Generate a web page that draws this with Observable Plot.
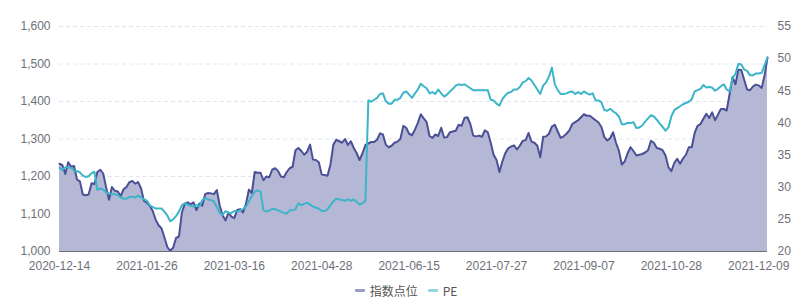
<!DOCTYPE html>
<html><head><meta charset="utf-8">
<script src="https://cdn.jsdelivr.net/npm/d3@7"></script>
<script src="https://cdn.jsdelivr.net/npm/@observablehq/plot@0.6"></script>
<style>
body{margin:0;background:#fff;font-family:"Noto Sans CJK SC","Noto Sans",sans-serif;}
#legend{height:30px;display:flex;justify-content:center;align-items:center;font-size:12px;color:#333;}
#legend .item{display:flex;align-items:center;margin:0 5px;}
#legend .sw{display:inline-block;width:10px;height:3px;margin-right:5px;border-radius:1px;}
</style></head><body><div id="chart"></div><div id="legend"></div>
<script>
const seriesNames = ["指数点位", "PE"];
const seriesColors = ["#4a5096", "#3bb5c8"];
const tickLabels = ["2020-12-14","2021-01-26","2021-03-16","2021-04-28","2021-06-15","2021-07-27","2021-09-07","2021-10-28","2021-12-09"];
const leftTicks = [1000,1100,1200,1300,1400,1500,1600];
const rightTicks = [20,25,30,35,40,45,50,55];
const indexValues = [
1234,1230,1207,1238,1226,1228,1192,1187,1152,1150,
1152,1182,1180,1212,1218,1208,1171,1138,1172,1162,
1160,1148,1166,1172,1185,1188,1181,1185,1168,1135,
1130,1122,1108,1085,1070,1062,1038,1012,1002,1010,
1036,1040,1104,1127,1131,1126,1131,1110,1128,1122,
1153,1156,1155,1153,1164,1122,1096,1083,1104,1093,
1089,1111,1113,1104,1127,1165,1156,1212,1210,1210,
1190,1200,1198,1218,1222,1215,1200,1198,1212,1222,
1226,1270,1276,1268,1258,1266,1285,1245,1244,1238,
1205,1204,1202,1232,1285,1298,1294,1290,1300,1284,
1294,1276,1262,1244,1262,1284,1288,1292,1292,1298,
1315,1312,1285,1278,1282,1290,1293,1300,1335,1330,
1314,1310,1325,1343,1366,1355,1345,1308,1303,1312,
1308,1330,1304,1305,1318,1320,1322,1338,1335,1356,
1358,1340,1309,1307,1309,1306,1323,1318,1290,1258,
1244,1212,1240,1262,1275,1280,1283,1272,1282,1295,
1297,1316,1293,1290,1282,1251,1306,1307,1314,1333,
1338,1320,1303,1307,1314,1323,1340,1345,1350,1358,
1366,1362,1362,1356,1350,1344,1332,1305,1296,1302,
1318,1290,1269,1232,1240,1262,1278,1268,1256,1258,
1260,1264,1270,1295,1290,1276,1274,1270,1256,1225,
1214,1236,1247,1234,1248,1258,1278,1278,1316,1335,
1340,1354,1367,1356,1371,1350,1365,1380,1380,1376,
1420,1465,1446,1485,1484,1458,1432,1430,1440,1445,
1443,1436,1470,1517];
const peValues = [
33.0,32.7,33.1,33.1,33.0,32.6,32.5,32.3,31.8,31.6,
31.7,32.2,32.4,29.6,29.8,29.6,29.2,29.0,28.9,28.9,
28.8,28.4,28.2,28.2,28.5,28.5,28.4,28.7,28.4,28.1,
27.9,27.2,26.9,26.7,26.7,26.7,26.2,25.6,24.7,25.0,
25.5,26.2,27.2,27.5,27.3,27.1,27.0,27.2,27.0,28.0,
28.3,28.1,28.0,27.8,26.9,26.0,25.7,26.3,26.0,26.0,
26.3,26.2,26.4,26.6,27.0,27.8,28.6,29.3,29.5,29.3,
26.4,26.2,26.4,26.6,26.6,26.4,26.2,26.0,25.9,26.4,
26.4,26.6,27.5,27.2,27.4,27.6,27.3,27.0,26.8,26.7,
26.3,26.3,26.6,27.2,27.8,28.2,28.1,28.0,27.9,28.1,
27.9,28.1,27.7,27.3,27.5,27.9,43.5,43.3,43.6,43.9,
44.5,44.6,43.4,43.0,43.0,43.6,43.6,43.9,44.7,44.9,
44.4,43.9,44.6,45.2,46.1,45.7,45.4,44.6,44.8,44.5,
45.2,44.6,44.1,44.4,44.9,45.3,45.8,46.0,45.9,46.0,
45.7,45.4,45.1,45.1,45.1,45.1,45.1,45.1,43.6,43.5,
43.0,42.7,43.7,44.3,44.7,44.8,45.2,45.2,45.6,46.3,
46.5,47.0,46.6,45.9,45.2,44.5,45.8,46.3,47.2,48.6,
46.0,45.1,44.5,44.5,44.6,44.8,44.9,44.5,44.8,44.5,
44.9,44.6,44.4,44.6,43.5,43.5,43.2,42.0,41.9,42.2,
41.8,41.5,41.0,39.8,39.8,40.0,40.0,40.1,39.2,39.3,
39.6,40.2,40.7,41.2,41.0,40.5,39.9,39.4,38.8,39.3,
41.0,42.0,42.3,42.6,42.9,43.1,43.3,43.7,44.9,45.1,
45.3,45.9,45.5,45.6,45.5,45.0,45.3,45.7,46.0,45.2,
44.9,47.0,47.6,49.2,49.1,48.3,48.1,47.4,47.4,47.7,
47.7,47.8,49.0,50.2];

const L0 = leftTicks[0], L1 = leftTicks[leftTicks.length-1];
const R0 = rightTicks[0], R1 = rightTicks[rightTicks.length-1];
const toLeft = pe => L0 + (pe - R0) * (L1 - L0) / (R1 - R0);
const toRight = v => Math.round(R0 + (v - L0) * (R1 - R0) / (L1 - L0));
const labelStep = 30;
const data = indexValues.map((v, i) => ({i, v, pe: peValues[i]}));

const font = '"Liberation Sans","Noto Sans",sans-serif';
const chart = Plot.plot({
  width: 812, height: 275,
  marginLeft: 59, marginRight: 45, marginTop: 26, marginBottom: 24,
  style: {fontFamily: font, fontSize: "12px", color: "#6e7079", background: "#fff"},
  x: {type: "linear", domain: [0, indexValues.length - 1], axis: null},
  y: {domain: [L0, L1], axis: null},
  marks: [
    Plot.gridY(leftTicks.slice(1), {stroke: "#e0e6f1", strokeOpacity: 1, strokeDasharray: "4,3"}),
    Plot.areaY(data, {x: "i", y1: L0, y2: "v", fill: "#b5b8d5", fillOpacity: 1}),
    Plot.lineY(data, {x: "i", y: "v", stroke: seriesColors[0], strokeWidth: 2}),
    Plot.lineY(data, {x: "i", y: d => toLeft(d.pe), stroke: seriesColors[1], strokeWidth: 2}),
    Plot.ruleY([L0], {stroke: "#6e7079"}),
    Plot.axisY(leftTicks, {anchor: "left", tickSize: 0, tickPadding: 9, label: null, tickFormat: d3.format(","), fill: "#6e7079"}),
    Plot.axisY(rightTicks.map(toLeft), {anchor: "right", tickSize: 0, tickPadding: 10, label: null, tickFormat: d => String(toRight(d)), fill: "#6e7079"}),
    Plot.axisX(tickLabels.map((_, k) => k * labelStep), {anchor: "bottom", tickSize: 0, tickPadding: 10, label: null, tickFormat: d => tickLabels[Math.round(d / labelStep)], fill: "#6e7079"})
  ]
});
document.getElementById("chart").appendChild(chart);

const legend = document.getElementById("legend");
seriesNames.forEach((n, k) => {
  const it = document.createElement("div");
  it.className = "item";
  const sw = document.createElement("span");
  sw.className = "sw";
  sw.style.background = seriesColors[k];
  sw.style.opacity = 0.55;
  const tx = document.createElement("span");
  tx.textContent = n;
  tx.style.color = "#555";
  it.appendChild(sw); it.appendChild(tx);
  legend.appendChild(it);
});
</script>
</body></html>
